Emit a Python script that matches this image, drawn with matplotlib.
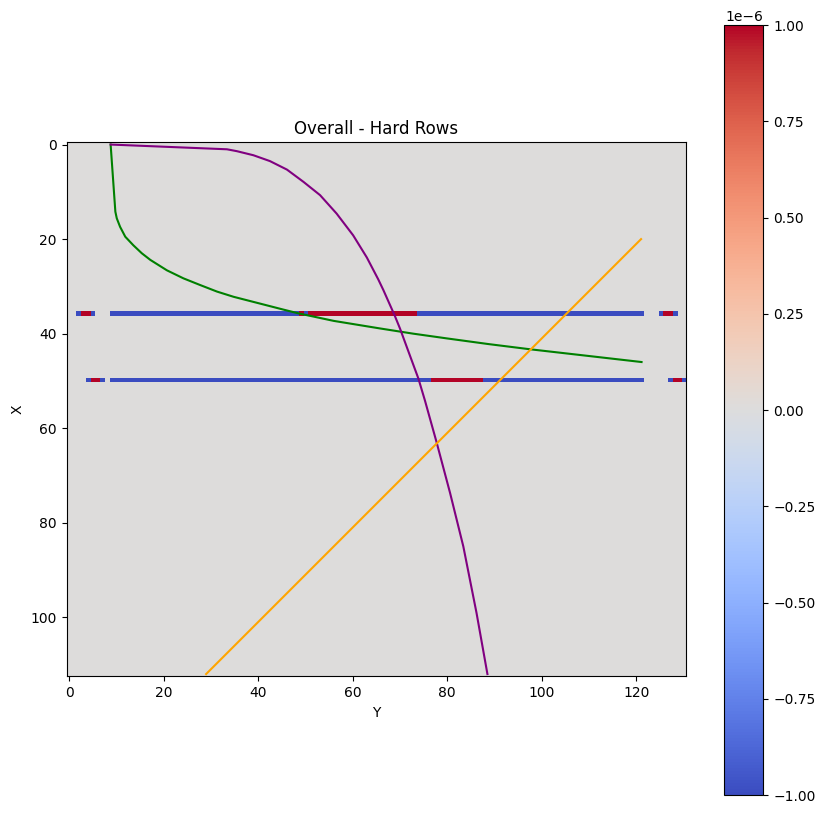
import matplotlib
matplotlib.use('Agg')
import matplotlib.pyplot as plt
import numpy as np

# grid size (rows x cols)
n_rows = 113
n_cols = 131

# hard rows: (row, start_col, end_col, value)
row_36_segments = [
    (36, 2, 2, -1), (36, 3, 4, 1), (36, 5, 5, -1),
    (36, 9, 48, -1), (36, 49, 49, 1), (36, 50, 50, -1), (36, 51, 73, 1),
    (36, 74, 121, -1),
    (36, 125, 125, -1), (36, 126, 127, 1), (36, 128, 128, -1),
]
row_50_segments = [
    (50, 4, 4, -1), (50, 5, 6, 1), (50, 7, 7, -1),
    (50, 9, 76, -1), (50, 77, 87, 1), (50, 88, 121, -1),
    (50, 127, 127, -1), (50, 128, 129, 1), (50, 130, 130, -1),
]

# overlay curves (col, row)
green_x = [8.8, 9.8, 10.1, 10.8, 11.9, 13.6, 15.4, 17.2, 20.7, 24.2, 27.7, 31.3, 34.8,
           38.3, 41.8, 45.3, 48.5, 56.0, 65.8, 72.8, 79.9, 88.7, 97.5, 108.0, 121.1]
green_y = [0.0, 14.2, 15.6, 17.4, 19.5, 21.3, 23.0, 24.4, 26.6, 28.3, 29.7, 31.1, 32.2,
           33.1, 34.0, 34.9, 35.7, 37.3, 38.9, 40.0, 41.0, 42.2, 43.3, 44.5, 46.0]

purple_x = [8.8, 33.4, 35.5, 39.0, 42.5, 46.1, 49.6, 53.1, 56.6, 60.1, 63.0, 65.4, 66.5,
            68.9, 70.0, 73.9, 75.3, 77.7, 80.6, 83.4, 86.2, 88.5]
purple_y = [0.0, 1.0, 1.4, 2.26, 3.5, 5.3, 7.9, 10.7, 14.6, 19.2, 23.9, 28.5, 30.8,
            36.2, 38.9, 49.5, 54.2, 62.8, 73.7, 85.0, 99.1, 112.0]

orange_x = [121.0, 29.0]
orange_y = [20.0, 112.0]

grid = np.zeros((n_rows, n_cols))
for r, c0, c1, v in row_36_segments + row_50_segments:
    grid[r, c0:c1 + 1] = v

fig = plt.figure(figsize=(8.25, 8.13), dpi=100)
ax = fig.add_axes([0.0808, 0.1677, 0.7507, 0.6577])
cax = fig.add_axes([0.878, 0.0221, 0.0473, 0.9471])

im = ax.imshow(grid, cmap='coolwarm', vmin=-1e-6, vmax=1e-6)
ax.plot(green_x, green_y, color='green')
ax.plot(purple_x, purple_y, color='purple')
ax.plot(orange_x, orange_y, color='orange')

ax.set_title("Overall - Hard Rows")
ax.set_xlabel("Y")
ax.set_ylabel("X")

fig.colorbar(im, cax=cax)

plt.savefig('out.png', dpi=100)
